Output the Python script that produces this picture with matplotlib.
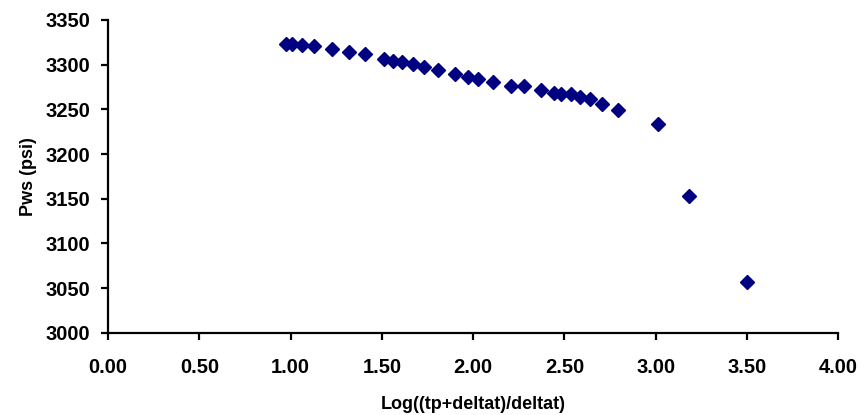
import matplotlib
matplotlib.use("Agg")
import matplotlib.pyplot as plt
from matplotlib.ticker import FormatStrFormatter

# Horner plot data
log_time_ratio = [0.975, 1.007, 1.061, 1.130, 1.229, 1.322, 1.410, 1.514, 1.563,
                  1.611, 1.673, 1.733, 1.810, 1.901, 1.971, 2.026, 2.108, 2.207,
                  2.281, 2.373, 2.441, 2.482, 2.535, 2.583, 2.641, 2.707, 2.791,
                  3.015, 3.184, 3.501]
pws = [3323.2, 3323.0, 3322.0, 3321.0, 3317.2, 3314.2, 3311.6, 3306.0, 3304.5,
       3303.0, 3300.4, 3297.0, 3294.0, 3289.3, 3286.0, 3284.0, 3281.0, 3276.2,
       3276.2, 3271.7, 3268.0, 3267.2, 3267.2, 3264.2, 3261.0, 3255.7, 3249.3,
       3233.7, 3153.0, 3057.0]
x_ticks = [0.0, 0.5, 1.0, 1.5, 2.0, 2.5, 3.0, 3.5, 4.0]
y_ticks = [3000, 3050, 3100, 3150, 3200, 3250, 3300, 3350]

plt.rcParams['font.family'] = ['Liberation Sans', 'DejaVu Sans']

fig = plt.figure(figsize=(8.65, 4.15), dpi=100)
ax = fig.add_axes([0.125, 0.198, 0.844, 0.754])

ax.plot(log_time_ratio, pws, linestyle='none', marker='D', markersize=7.5,
        color='#000080')

ax.set_xlim(0, 4)
ax.set_ylim(3000, 3350)
ax.set_xticks(x_ticks)
ax.set_yticks(y_ticks)
ax.xaxis.set_major_formatter(FormatStrFormatter('%.2f'))

for side in ['top', 'right']:
    ax.spines[side].set_visible(False)
for side in ['left', 'bottom']:
    ax.spines[side].set_linewidth(1.6)

ax.tick_params(direction='out', length=5, width=1.6, labelsize=14.5)
ax.tick_params(axis='y', pad=8)
ax.tick_params(axis='x', pad=13)
for lbl in ax.get_xticklabels() + ax.get_yticklabels():
    lbl.set_fontweight('bold')

ax.set_xlabel('Log((tp+deltat)/deltat)', fontsize=13, fontweight='bold', labelpad=14)
ax.set_ylabel('Pws (psi)', fontsize=13, fontweight='bold', labelpad=6)

fig.savefig('out.png', dpi=100)
